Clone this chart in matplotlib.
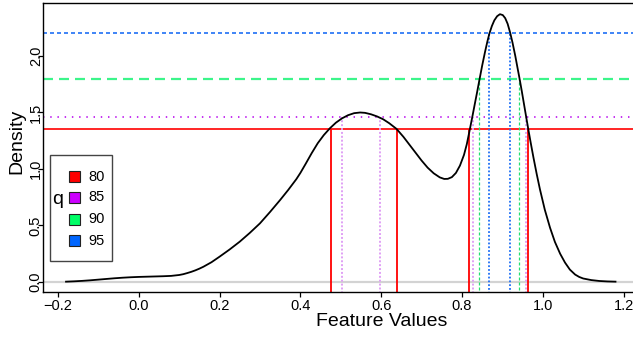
import matplotlib
matplotlib.use('Agg')
import matplotlib.pyplot as plt
from matplotlib.patches import Rectangle

plt.rcParams['font.family'] = ['Liberation Sans', 'DejaVu Sans']

# ---- data ----
feature_x = [-0.18, -0.16, -0.14, -0.12, -0.10, -0.08, -0.06, -0.04, -0.02, 0.00,
             0.02, 0.04, 0.06, 0.08, 0.10, 0.11, 0.12, 0.13, 0.14, 0.15,
             0.16, 0.18, 0.20, 0.225, 0.25, 0.275, 0.30, 0.325, 0.35, 0.37,
             0.39, 0.40, 0.413, 0.428, 0.443, 0.458, 0.473, 0.488, 0.503, 0.518,
             0.533, 0.548, 0.56, 0.575, 0.59, 0.605, 0.62, 0.638, 0.655, 0.67,
             0.685, 0.70, 0.715, 0.73, 0.745, 0.756, 0.765, 0.775, 0.785, 0.795,
             0.805, 0.812, 0.818, 0.825, 0.832, 0.838, 0.843, 0.85, 0.857, 0.863,
             0.868, 0.874, 0.88, 0.887, 0.894, 0.901, 0.907, 0.913, 0.919, 0.925,
             0.932, 0.938, 0.942, 0.948, 0.953, 0.958, 0.964, 0.97, 0.977, 0.985,
             0.993, 1.005, 1.018, 1.03, 1.043, 1.055, 1.067, 1.08, 1.09, 1.10,
             1.12, 1.14, 1.16, 1.18]
density_y = [0.003, 0.006, 0.010, 0.015, 0.021, 0.027, 0.033, 0.038, 0.042, 0.045,
             0.047, 0.049, 0.051, 0.054, 0.062, 0.069, 0.079, 0.090, 0.103, 0.118,
             0.135, 0.175, 0.224, 0.288, 0.357, 0.435, 0.519, 0.620, 0.726, 0.815,
             0.910, 0.965, 1.045, 1.140, 1.228, 1.300, 1.360, 1.410, 1.448, 1.476,
             1.494, 1.500, 1.497, 1.484, 1.465, 1.440, 1.405, 1.355, 1.285, 1.215,
             1.145, 1.075, 1.012, 0.962, 0.926, 0.912, 0.913, 0.928, 0.965, 1.030,
             1.125, 1.220, 1.325, 1.450, 1.580, 1.690, 1.785, 1.915, 2.035, 2.130,
             2.200, 2.265, 2.315, 2.352, 2.370, 2.362, 2.335, 2.285, 2.210, 2.120,
             2.000, 1.885, 1.810, 1.690, 1.585, 1.480, 1.355, 1.235, 1.100, 0.955,
             0.820, 0.640, 0.480, 0.355, 0.250, 0.172, 0.110, 0.066, 0.045, 0.031,
             0.017, 0.009, 0.005, 0.003]

q_labels = ['80', '85', '90', '95']
q_colors = ['#FF0000', '#CC00FF', '#00FF66', '#0066FF']
q_levels = [1.358, 1.456, 1.80, 2.20]
q_bounds = [[0.476, 0.638, 0.818, 0.964],
            [0.502, 0.597, 0.827, 0.958],
            [0.843, 0.942],
            [0.868, 0.919]]

x_ticks = [-0.2, 0.0, 0.2, 0.4, 0.6, 0.8, 1.0, 1.2]
y_ticks = [0.0, 0.5, 1.0, 1.5, 2.0]

# ---- layout ----
W, H = 633, 338
fig = plt.figure(figsize=(W / 100, H / 100), dpi=100)
def fx(px): return px / W
def fy(py): return 1 - py / H

ax = fig.add_axes([fx(43), fy(292), (635.7 - 43) / W, (292 - 3) / H])
ax.set_xlim(-0.237, 1.230)
ax.set_ylim(-0.0885, 2.469)

# zero line
ax.axhline(0, color='#D3D3D3', lw=1.6, zorder=1)

h_styles = [dict(color='#FF0000', lw=1.2, ls='-'),
            dict(color='#C020F0', lw=1.3, ls=(0, (0.8, 3.2))),
            dict(color='#3CF58A', lw=1.6, ls=(0, (4.5, 2.7))),
            dict(color='#1F6FF5', lw=1.2, ls=(0, (2.4, 1.8)))]
v_styles = [dict(color='#FF0000', lw=1.3, ls='-'),
            dict(color='#E0A0F5', lw=1.4, ls=(0, (1, 1))),
            dict(color='#22E070', lw=0.9, ls=(0, (2.4, 1.6))),
            dict(color='#1F6FF5', lw=1.3, ls=(0, (1, 1.1)))]

for lev, bnds, hs, vs in zip(q_levels, q_bounds, h_styles, v_styles):
    ax.axhline(lev, zorder=2, **hs)
    ax.vlines(bnds, -0.2, lev, zorder=2, colors=vs['color'],
              linewidths=vs['lw'], linestyles=[vs['ls']])

ax.plot(feature_x, density_y, color='black', lw=1.3, zorder=4,
        solid_joinstyle='round')

# axes styling
for s in ['left', 'bottom', 'top', 'right']:
    ax.spines[s].set_linewidth(1.0)
    ax.spines[s].set_color('black')
ax.set_xticks(x_ticks)
ax.set_xticklabels([('\u2212' if t < 0 else '') + f'{abs(t):.1f}' for t in x_ticks])
ax.set_yticks(y_ticks)
ax.set_yticklabels([f'{t:.1f}' for t in y_ticks], rotation=90, va='center')
ax.tick_params(axis='x', length=3.6, width=0.9, pad=1.5, labelsize=10.5)
ax.tick_params(axis='y', length=3.6, width=0.9, pad=-3.5, labelsize=10.5)

fig.text(fx(381.5), fy(322), 'Feature Values', ha='center', va='center', fontsize=14)
fig.text(fx(17), fy(141), 'Density', ha='center', va='center', rotation=90, fontsize=14)

# legend (drawn manually, like R's legend box)
fig.add_artist(Rectangle((fx(50), fy(261)), (112 - 50) / W, (261 - 155) / H,
                         transform=fig.transFigure, fill=False,
                         edgecolor='#444444', lw=1.0, zorder=5))
ys = [176.7, 197.3, 219.0, 240.7]
sq = 11
for lab, col, yy in zip(q_labels, q_colors, ys):
    fig.add_artist(Rectangle((fx(74.5 - sq / 2), fy(yy + sq / 2)), sq / W, sq / H,
                             transform=fig.transFigure, facecolor=col,
                             edgecolor='#222222', lw=0.8, zorder=6))
    fig.text(fx(88), fy(yy), lab, ha='left', va='center', fontsize=10.5)
fig.text(fx(58), fy(200), 'q', ha='center', va='center', fontsize=14)

fig.savefig('out.png', dpi=100)
